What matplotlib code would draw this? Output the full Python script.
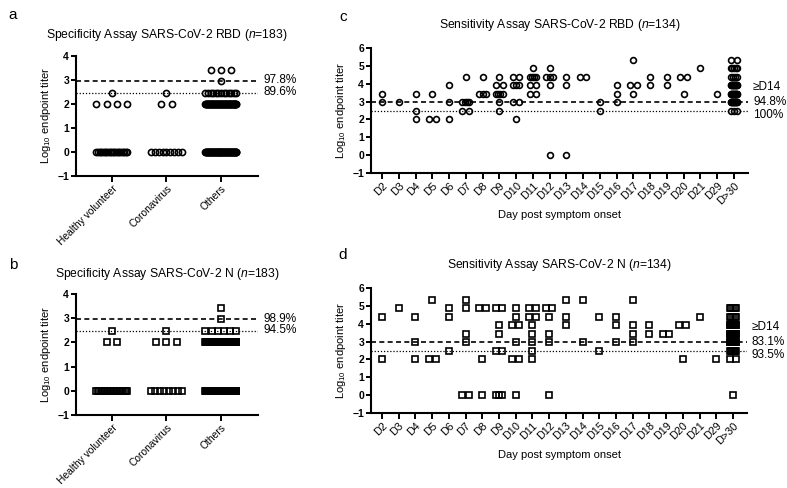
import numpy as np
import matplotlib
matplotlib.use("Agg")
import matplotlib.pyplot as plt

plt.rcParams["font.family"] = ["Liberation Sans", "DejaVu Sans"]
plt.rcParams["mathtext.fontset"] = "custom"
plt.rcParams["mathtext.rm"] = "Liberation Sans"
plt.rcParams["mathtext.it"] = "Liberation Sans:italic"

# log10 endpoint titer levels (3-fold dilutions, 0 = negative)
levels = [0.0, 2.0, 2.477, 2.954, 3.431, 3.908, 4.385, 4.863, 5.340]
cut_hi = 2.954   # dashed
cut_lo = 2.477   # dotted

# specificity panels: counts per level
groups = ["Healthy volunteer", "Coronavirus", "Others"]
spec_rbd = [
    [20, 4, 1, 0, 0, 0, 0, 0, 0],
    [9, 2, 1, 0, 0, 0, 0, 0, 0],
    [65, 64, 13, 1, 3, 0, 0, 0, 0],
]
spec_n = [
    [22, 2, 1, 0, 0, 0, 0, 0, 0],
    [8, 3, 1, 0, 0, 0, 0, 0, 0],
    [70, 68, 6, 1, 1, 0, 0, 0, 0],
]
spec_rbd_pct = ["97.8%", "89.6%"]
spec_n_pct = ["98.9%", "94.5%"]

# sensitivity panels: counts per level for each day
days = ["D2", "D3", "D4", "D5", "D6", "D7", "D8", "D9", "D10", "D11", "D12",
        "D13", "D14", "D15", "D16", "D17", "D18", "D19", "D20", "D21", "D29", "D>30"]
sens_rbd = [
    [0, 0, 0, 1, 1, 0, 0, 0, 0],   # D2
    [0, 0, 0, 1, 0, 0, 0, 0, 0],   # D3
    [0, 1, 1, 0, 1, 0, 0, 0, 0],   # D4
    [0, 2, 0, 0, 1, 0, 0, 0, 0],   # D5
    [0, 1, 0, 1, 0, 1, 0, 0, 0],   # D6
    [0, 0, 2, 4, 0, 0, 1, 0, 0],   # D7
    [0, 0, 0, 0, 3, 0, 1, 0, 0],   # D8
    [0, 0, 1, 1, 4, 2, 1, 0, 0],   # D9
    [0, 1, 0, 2, 0, 3, 2, 0, 0],   # D10
    [0, 0, 0, 0, 2, 2, 4, 1, 0],   # D11
    [1, 0, 0, 0, 0, 1, 3, 1, 0],   # D12
    [1, 0, 0, 0, 0, 1, 1, 0, 0],   # D13
    [0, 0, 0, 0, 0, 0, 2, 0, 0],   # D14
    [0, 0, 1, 1, 0, 0, 0, 0, 0],   # D15
    [0, 0, 0, 1, 1, 1, 0, 0, 0],   # D16
    [0, 0, 0, 0, 1, 2, 0, 0, 1],   # D17
    [0, 0, 0, 0, 0, 1, 1, 0, 0],   # D18
    [0, 0, 0, 0, 0, 1, 1, 0, 0],   # D19
    [0, 0, 0, 0, 1, 0, 2, 0, 0],   # D20
    [0, 0, 0, 0, 0, 0, 0, 1, 0],   # D21
    [0, 0, 0, 0, 1, 0, 0, 0, 0],   # D29
    [0, 0, 3, 14, 14, 14, 4, 5, 2],  # D>30
]
sens_n = [
    [0, 1, 0, 0, 0, 0, 1, 0, 0],   # D2
    [0, 0, 0, 0, 0, 0, 0, 1, 0],   # D3
    [0, 1, 0, 1, 0, 0, 1, 0, 0],   # D4
    [0, 2, 0, 0, 0, 0, 0, 0, 1],   # D5
    [0, 0, 1, 0, 0, 0, 1, 1, 0],   # D6
    [2, 0, 0, 1, 1, 0, 0, 1, 1],   # D7
    [1, 1, 0, 0, 0, 0, 0, 2, 0],   # D8
    [3, 0, 2, 0, 1, 1, 0, 2, 0],   # D9
    [1, 2, 0, 1, 0, 2, 1, 1, 0],   # D10
    [0, 1, 1, 1, 1, 1, 2, 2, 0],   # D11
    [1, 0, 0, 1, 1, 0, 1, 2, 0],   # D12
    [0, 0, 0, 0, 0, 1, 1, 0, 1],   # D13
    [0, 0, 0, 1, 0, 0, 0, 0, 1],   # D14
    [0, 0, 1, 0, 0, 0, 1, 0, 0],   # D15
    [0, 0, 0, 1, 0, 1, 1, 0, 0],   # D16
    [0, 0, 0, 1, 1, 1, 0, 0, 1],   # D17
    [0, 0, 0, 0, 1, 1, 0, 0, 0],   # D18
    [0, 0, 0, 0, 2, 0, 0, 0, 0],   # D19
    [0, 1, 0, 0, 0, 2, 0, 0, 0],   # D20
    [0, 0, 0, 0, 0, 0, 1, 0, 0],   # D21
    [0, 1, 0, 0, 0, 0, 0, 0, 0],   # D29
    [1, 2, 7, 12, 12, 12, 5, 5, 0],  # D>30
]
sens_rbd_pct = ["94.8%", "100%"]
sens_n_pct = ["83.1%", "93.5%"]


def spread(counts, step, maxspan):
    # horizontal scatter of identical values, like a column scatter plot
    xs, ys = [], []
    for i, col in enumerate(counts):
        for lev, n in zip(levels, col):
            if n == 0:
                continue
            gap = step if n < 2 else min(step, maxspan / (n - 1))
            offs = (np.arange(n) - (n - 1) / 2) * gap
            xs.extend(i + offs)
            ys.extend([lev] * n)
    return np.array(xs), np.array(ys)


def style_axes(ax, ymin, ymax):
    for s in ["top", "right"]:
        ax.spines[s].set_visible(False)
    for s in ["left", "bottom"]:
        ax.spines[s].set_linewidth(1.5)
    ax.set_ylim(ymin, ymax)
    ax.set_yticks(range(ymin, ymax + 1))
    ax.tick_params(axis="y", length=3.5, width=1.4, labelsize=7.5, pad=1.5)
    ax.tick_params(axis="x", length=4.5, width=1.4, pad=1)
    for t in ax.get_yticklabels():
        t.set_fontweight("bold")
    ax.set_ylabel("Log$_{10}$ endpoint titer", fontsize=8, labelpad=3)


fig = plt.figure(figsize=(7.87, 4.88), dpi=100)

W, H = 787.0, 488.0


def add_axes(x0, y_top, x1, y_bot):
    return fig.add_axes([x0 / W, 1 - y_bot / H, (x1 - x0) / W, (y_bot - y_top) / H])


panels = [
    dict(box=(76, 56, 258, 176), counts=spec_rbd, marker="o", pct=spec_rbd_pct,
         title="Specificity Assay SARS-CoV-2 RBD ($\\it{n}$=183)", letter="a",
         letter_xy=(13, 15), title_y=35, kind="spec"),
    dict(box=(76, 294, 258, 415), counts=spec_n, marker="s", pct=spec_n_pct,
         title="Specificity Assay SARS-CoV-2 N ($\\it{n}$=183)", letter="b",
         letter_xy=(13, 265), title_y=274, kind="spec"),
    dict(box=(371, 48, 748, 173), counts=sens_rbd, marker="o", pct=sens_rbd_pct,
         title="Sensitivity Assay SARS-CoV-2 RBD ($\\it{n}$=134)", letter="c",
         letter_xy=(343, 17), title_y=25, kind="sens", xlabel_y=215),
    dict(box=(371, 288, 747, 413), counts=sens_n, marker="s", pct=sens_n_pct,
         title="Sensitivity Assay SARS-CoV-2 N ($\\it{n}$=134)", letter="d",
         letter_xy=(343, 255), title_y=265, kind="sens", xlabel_y=455),
]

for p in panels:
    x0, yt, x1, yb = p["box"]
    ax = add_axes(x0, yt, x1, yb)
    if p["kind"] == "spec":
        xs, ys = spread(p["counts"], 0.19, 0.57)
        ax.set_xlim(-0.66, 2.68)
        ax.set_xticks(range(len(groups)))
        ax.set_xticklabels(groups, rotation=45, ha="right", va="top",
                           rotation_mode="anchor", fontsize=7.4)
        style_axes(ax, -1, 4)
        ms = 4.4 if p["marker"] == "o" else 4.5
    else:
        xs, ys = spread(p["counts"], 0.4, 0.4)
        ax.set_xlim(-0.66, 21.84)
        ax.set_xticks(range(len(days)))
        ax.set_xticklabels(days, rotation=45, ha="right", va="top",
                           rotation_mode="anchor", fontsize=7.8)
        style_axes(ax, -1, 6)
        ms = 4.2 if p["marker"] == "o" else 4.3
        fig.text((x0 + x1) / 2 / W, 1 - p["xlabel_y"] / H, "Day post symptom onset",
                 ha="center", va="center", fontsize=8)
    ax.axhline(cut_hi, color="black", lw=1.2, ls=(0, (3, 2)), zorder=1)
    ax.axhline(cut_lo, color="black", lw=0.9, ls=(0, (1, 1.5)), zorder=1)
    ax.plot(xs, ys, ls="none", marker=p["marker"], ms=ms, mfc="none",
            mec="black", mew=1.2, zorder=3, clip_on=False)

    # percentages at the right end of the cutoff lines
    tx = (x1 + 5) / W
    def to_fig_y(v):
        ymin, ymax = ax.get_ylim()
        return 1 - (yb - (v - ymin) / (ymax - ymin) * (yb - yt)) / H
    if p["kind"] == "spec":
        fig.text(tx, to_fig_y(cut_hi + 0.03), p["pct"][0], fontsize=8.5, va="center")
        fig.text(tx, to_fig_y(cut_lo + 0.02), p["pct"][1], fontsize=8.5, va="center")
    else:
        fig.text(tx, to_fig_y(3.8), "\u2265D14", fontsize=8.5, va="center")
        fig.text(tx, to_fig_y(2.99), p["pct"][0], fontsize=8.5, va="center")
        fig.text(tx, to_fig_y(2.25), p["pct"][1], fontsize=8.5, va="center")

    fig.text((x0 + x1) / 2 / W, 1 - p["title_y"] / H, p["title"],
             ha="center", va="center", fontsize=8.7)
    lx, ly = p["letter_xy"]
    fig.text(lx / W, 1 - ly / H, p["letter"], ha="center", va="center", fontsize=11)

fig.savefig("out.png", dpi=100)
